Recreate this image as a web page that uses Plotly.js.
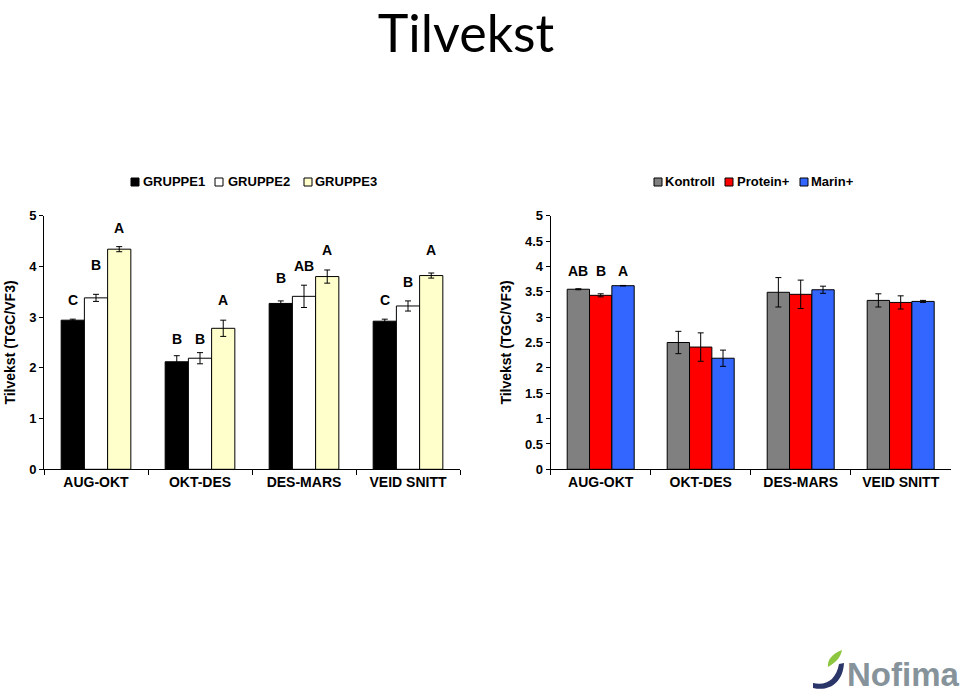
<!DOCTYPE html>
<html>
<head>
<meta charset="utf-8">
<script src="https://cdn.plot.ly/plotly-3.0.1.min.js"></script>
<style>html,body{margin:0;padding:0;background:#fff;}#chart{width:960px;height:698px;}</style>
</head>
<body>
<div id="chart"></div>
<script>
// ---- data ----
var categories = ['AUG-OKT', 'OKT-DES', 'DES-MARS', 'VEID SNITT'];

// left chart
var leftNames = ['GRUPPE1', 'GRUPPE2', 'GRUPPE3'];
var gruppe1 = [2.94, 2.12, 3.27, 2.92];
var gruppe1Err = [0.02, 0.12, 0.05, 0.04];
var gruppe2 = [3.38, 2.19, 3.41, 3.22];
var gruppe2Err = [0.07, 0.11, 0.22, 0.10];
var gruppe3 = [4.34, 2.78, 3.80, 3.82];
var gruppe3Err = [0.05, 0.16, 0.13, 0.05];
var gruppe1Letters = ['C', 'B', 'B', 'C'];
var gruppe2Letters = ['B', 'B', 'AB', 'B'];
var gruppe3Letters = ['A', 'A', 'A', 'A'];
var gruppe1LetterY = [3.33, 2.56, 3.77, 3.34];
var gruppe2LetterY = [4.03, 2.56, 4.00, 3.69];
var gruppe3LetterY = [4.75, 3.34, 4.33, 4.33];

// right chart
var rightNames = ['Kontroll', 'Protein+', 'Marin+'];
var kontroll = [3.55, 2.50, 3.49, 3.33];
var kontrollErr = [0.01, 0.22, 0.29, 0.13];
var protein = [3.43, 2.41, 3.45, 3.29];
var proteinErr = [0.03, 0.28, 0.28, 0.13];
var marin = [3.62, 2.19, 3.54, 3.31];
var marinErr = [0.005, 0.16, 0.07, 0.02];
var kontrollLetters = ['AB', '', '', ''];
var proteinLetters = ['B', '', '', ''];
var marinLetters = ['A', '', '', ''];
var rightLetterY = [3.91, 0, 0, 0];

var leftYTicks = [0, 1, 2, 3, 4, 5];
var rightYTicks = [0, 0.5, 1, 1.5, 2, 2.5, 3, 3.5, 4, 4.5, 5];

// ---- styles ----
var W = 960, H = 698;
var FONT = 'Liberation Sans, Arial, sans-serif';
var leftColors = ['#000000', '#ffffff', '#ffffcc'];
var rightColors = ['#808080', '#ff0000', '#3366ff'];
var BARGAP = 0.33;

function px(x) { return x / W; }
function py(y) { return 1 - y / H; }

function barTrace(name, y, err, color, xa, ya) {
  return {
    type: 'bar', name: name, x: categories, y: y,
    xaxis: xa, yaxis: ya,
    marker: {color: color, line: {color: '#000', width: 1}},
    error_y: {type: 'data', array: err, visible: true, color: '#000', thickness: 1, width: 3},
    showlegend: false, hoverinfo: 'x+y+name'
  };
}

var data = [
  barTrace(leftNames[0], gruppe1, gruppe1Err, leftColors[0], 'x', 'y'),
  barTrace(leftNames[1], gruppe2, gruppe2Err, leftColors[1], 'x', 'y'),
  barTrace(leftNames[2], gruppe3, gruppe3Err, leftColors[2], 'x', 'y'),
  barTrace(rightNames[0], kontroll, kontrollErr, rightColors[0], 'x2', 'y2'),
  barTrace(rightNames[1], protein, proteinErr, rightColors[1], 'x2', 'y2'),
  barTrace(rightNames[2], marin, marinErr, rightColors[2], 'x2', 'y2')
];

var annotations = [];
var w = (1 - BARGAP) / 3;
function addLetters(letters, ys, j, xr, yr) {
  for (var i = 0; i < letters.length; i++) {
    if (!letters[i]) continue;
    annotations.push({
      xref: xr, yref: yr, x: i + (j - 1) * w, y: ys[i],
      text: letters[i], showarrow: false, xanchor: 'center', yanchor: 'middle',
      font: {family: FONT, size: 14, color: '#000', weight: 'bold'}
    });
  }
}
addLetters(gruppe1Letters, gruppe1LetterY, 0, 'x', 'y');
addLetters(gruppe2Letters, gruppe2LetterY, 1, 'x', 'y');
addLetters(gruppe3Letters, gruppe3LetterY, 2, 'x', 'y');
addLetters(kontrollLetters, rightLetterY, 0, 'x2', 'y2');
addLetters(proteinLetters, rightLetterY, 1, 'x2', 'y2');
addLetters(marinLetters, rightLetterY, 2, 'x2', 'y2');

// legends (drawn as squares + text)
var shapes = [];
function legendItem(name, color, sqX, textX, cy) {
  var s = 4;
  shapes.push({type: 'rect', xref: 'paper', yref: 'paper',
    x0: px(sqX - s), x1: px(sqX + s), y0: py(cy + s), y1: py(cy - s),
    fillcolor: color, line: {color: '#000', width: 1}});
  annotations.push({xref: 'paper', yref: 'paper', x: px(textX), y: py(cy),
    text: name, showarrow: false, xanchor: 'left', yanchor: 'middle',
    font: {family: FONT, size: 13, color: '#000', weight: 'bold'}});
}
var legCy = 182;
legendItem(leftNames[0], leftColors[0], 135, 141, legCy);
legendItem(leftNames[1], leftColors[1], 219, 226, legCy);
legendItem(leftNames[2], leftColors[2], 308, 313, legCy);
legendItem(rightNames[0], rightColors[0], 658, 663, legCy);
legendItem(rightNames[1], rightColors[1], 729, 735, legCy);
legendItem(rightNames[2], rightColors[2], 804, 809, legCy);

// Nofima logo
function pathPx(cmds) {
  return cmds.map(function (c) {
    if (typeof c === 'string') return c;
    return px(c[0]).toFixed(5) + ',' + py(c[1]).toFixed(5);
  }).join(' ');
}
shapes.push({type: 'path', xref: 'paper', yref: 'paper', fillcolor: '#8dc63f', line: {width: 0},
  path: pathPx(['M', [828, 667], 'C', [827, 660], [832, 654], [842, 650], 'C', [841, 656], [837, 662], [828, 667], 'Z'])});
shapes.push({type: 'path', xref: 'paper', yref: 'paper', fillcolor: '#2b3668', line: {width: 0},
  path: pathPx(['M', [813, 683], 'C', [826, 686], [836, 680], [839, 664], 'L', [844, 663], 'C', [843, 682], [830, 692], [813, 688], 'Z'])});
annotations.push({xref: 'paper', yref: 'paper', x: px(845), y: py(674), text: 'Nofima', showarrow: false,
  xanchor: 'left', yanchor: 'middle', font: {family: FONT, size: 33, color: '#86939a', weight: 'bold'}});

function yAxis(ticks, anchor) {
  return {
    domain: [py(469.3), py(215.7)], range: [0, 5], anchor: anchor,
    tickvals: ticks, ticktext: ticks.map(String), ticks: 'outside', ticklen: 4, tickcolor: '#000',
    showline: true, linecolor: '#000', linewidth: 1, showgrid: false, zeroline: false,
    tickfont: {family: FONT, size: 13, color: '#000', weight: 'bold'},
    title: {text: 'Tilvekst (TGC/VF3)', standoff: 10, font: {family: FONT, size: 14, color: '#000', weight: 'bold'}},
    automargin: false, fixedrange: true
  };
}
function xAxis(x0, x1, anchor) {
  return {
    domain: [px(x0), px(x1)], anchor: anchor, type: 'category',
    ticks: 'outside', tickson: 'boundaries', ticklen: 5, tickcolor: '#000',
    showline: true, linecolor: '#000', linewidth: 1, showgrid: false, zeroline: false,
    tickfont: {family: FONT, size: 14, color: '#000', weight: 'bold'},
    automargin: false, fixedrange: true
  };
}

var layout = {
  width: W, height: H,
  margin: {l: 0, r: 0, t: 0, b: 0},
  paper_bgcolor: '#fff', plot_bgcolor: '#fff',
  barmode: 'group', bargap: BARGAP, bargroupgap: 0,
  showlegend: false,
  title: {text: 'Tilvekst', x: px(466), xanchor: 'center', y: py(34), yanchor: 'middle', yref: 'paper',
    font: {family: 'Lato, Carlito, Calibri, sans-serif', size: 52, color: '#000'}},
  xaxis: xAxis(44, 460, 'y'),
  yaxis: yAxis(leftYTicks, 'x'),
  xaxis2: xAxis(550.7, 950.7, 'y2'),
  yaxis2: yAxis(rightYTicks, 'x2'),
  annotations: annotations,
  shapes: shapes
};

Plotly.newPlot('chart', data, layout, {displayModeBar: false, staticPlot: true});
</script>
</body>
</html>
